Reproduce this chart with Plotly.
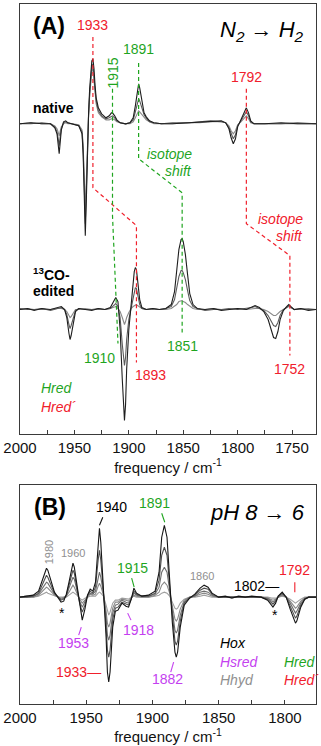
import plotly.graph_objects as go

# ===================== DATA =====================
# Panel A, "native" spectra (frequency in cm-1, difference absorbance in arb. units)
native_freq = [2000, 1990, 1980, 1972, 1968, 1966, 1965, 1964, 1963, 1962, 1960, 1958, 1956, 1952,
               1946, 1943, 1942, 1941, 1940, 1939, 1938, 1937, 1936, 1935, 1934, 1933, 1932, 1931,
               1930, 1928, 1925, 1921, 1918, 1916, 1915, 1913, 1911, 1908, 1903, 1899, 1896, 1894,
               1892, 1891, 1890, 1888, 1886, 1884, 1881, 1877, 1870, 1860, 1845, 1835, 1825, 1815,
               1811, 1808, 1806, 1804, 1802, 1800, 1797, 1794, 1792, 1790, 1788, 1785, 1775, 1760,
               1745, 1728]
native_t1 = [0, 1, 0, 0, -4, -10, -20, -30, -18, -6, 2, 3, 1, 0,
             -2, -10, -30, -70, -112, -75, -25, 10, 35, 55, 63, 65, 55, 38,
             26, 16, 10, 6, 8, 11, 11, 8, 4, 1, 0, 1, 6, 18,
             35, 40, 36, 22, 11, 7, 3, 1, 0, 0, 1, 2, 3, 3,
             1, -5, -14, -20, -15, -3, 4, 12, 16, 11, 3, 0, 0, 1,
             0, 0]
native_t2 = [0, 0, 1, 0, -3, -8, -14, -22, -12, -5, 1, 2, 1, 0,
             -2, -8, -25, -60, -100, -65, -20, 8, 30, 50, 58, 60, 50, 34,
             23, 13, 8, 5, 6, 8, 8, 6, 3, 1, 0, 1, 4, 12,
             22, 25, 23, 15, 9, 6, 2, 1, 0, 1, 1, 2, 3, 2,
             1, -4, -10, -15, -11, -2, 3, 9, 12, 8, 2, 0, 0, 0,
             1, 0]
native_t3 = [0, 1, 0, 0, -2, -5, -8, -12, -7, -3, 0, 1, 0, 0,
             -1, -6, -20, -50, -85, -55, -15, 8, 28, 46, 53, 55, 45, 30,
             20, 11, 7, 4, 4, 5, 5, 4, 2, 1, 0, 0, 2, 6,
             11, 13, 12, 9, 6, 4, 2, 0, 0, 0, 1, 1, 2, 2,
             1, -2, -7, -10, -7, -1, 2, 6, 8, 5, 1, 0, 0, 0,
             0, 0]

# Panel A, "13CO-edited" spectra
co13_freq = [2000, 1993, 1987, 1980, 1972, 1966, 1962, 1959, 1957, 1955, 1954, 1953, 1951, 1949,
             1946, 1940, 1934, 1928, 1922, 1917, 1914, 1912, 1910, 1908, 1906, 1905, 1904, 1903,
             1902, 1900, 1898, 1896, 1895, 1894, 1893, 1892, 1890, 1888, 1884, 1878, 1872, 1866,
             1861, 1858, 1856, 1854, 1852, 1851, 1850, 1848, 1846, 1844, 1841, 1837, 1830, 1822,
             1815, 1808, 1800, 1792, 1787, 1784, 1780, 1776, 1772, 1769, 1767, 1765, 1763, 1761,
             1758, 1755, 1753, 1751, 1748, 1742, 1735, 1728]
co13_t1 = [0, 1, -1, 1, 0, 2, 3, 0, -8, -24, -30, -26, -12, -2,
           1, 0, -1, 1, 0, 2, 8, 12, 8, -20, -70, -100, -111, -95,
           -60, -20, 5, 25, 38, 42, 40, 30, 10, 2, 0, 1, 0, 1,
           5, 18, 40, 60, 70, 71, 68, 55, 35, 16, 5, 1, 0, 1,
           -1, 0, 1, 0, 3, 4, 2, -2, -10, -22, -28, -29, -22, -10,
           -1, 3, 5, 3, 0, 1, -1, 0]
co13_t2 = [1, 0, 0, 1, -1, 1, 2, 0, -5, -15, -19, -16, -8, -1,
           1, 0, 0, 1, 0, 1, 4, 6, 3, -8, -35, -50, -56, -48,
           -30, -10, 2, 12, 20, 22, 21, 15, 5, 1, 0, 1, 0, 1,
           3, 10, 22, 33, 39, 39, 37, 30, 19, 9, 3, 1, -1, 0,
           0, 1, 0, 1, 2, 3, 1, -1, -6, -13, -16, -17, -13, -6,
           0, 2, 4, 2, 0, 1, 0, 0]
co13_t3 = [0, 1, 0, 0, 0, 1, 1, 0, -2, -6, -8, -7, -3, 0,
           0, 1, 0, 0, 0, 1, 2, 3, 1, -2, -8, -13, -15, -12,
           -8, -3, 1, 3, 4, 5, 5, 4, 2, 1, 0, 0, 0, 0,
           1, 3, 5, 8, 9, 9, 8, 7, 5, 3, 1, 0, 0, 1,
           0, 0, 1, 0, 1, 1, 1, 0, -2, -4, -6, -6, -4, -2,
           0, 2, 3, 2, 0, 0, 1, 0]

# Panel B, pH 8 -> 6 spectra
b_freq = [2000, 1995, 1990, 1986, 1983, 1981, 1980, 1979, 1977, 1974, 1971, 1969, 1967, 1965,
          1963, 1961, 1960, 1959, 1957, 1955, 1953, 1951, 1949, 1947, 1945, 1943, 1941, 1940,
          1939, 1937, 1935, 1934, 1933, 1932, 1930, 1928, 1926, 1923, 1920, 1918, 1916, 1914,
          1912, 1908, 1903, 1898, 1895, 1893, 1891, 1889, 1887, 1885, 1883, 1882, 1881, 1879,
          1876, 1872, 1868, 1864, 1861, 1858, 1855, 1850, 1845, 1840, 1835, 1830, 1825, 1818,
          1813, 1810, 1809, 1807, 1805, 1802, 1799, 1796, 1793, 1792, 1791, 1788, 1785, 1782,
          1776]
b_t1 = [0, 1, 2, 6, 18, 27, 29, 27, 18, 5, -1, -5, -4, 3,
        15, 30, 34, 30, 12, -10, -23, -12, 2, 8, 6, 15, 55, 69,
        55, 10, -40, -75, -85, -75, -30, -14, -13, -6, -9, -10, -2, 9,
        4, 1, 2, 6, 25, 60, 72, 60, 15, -25, -55, -60, -55, -30,
        -8, -1, 3, 9, 12, 10, 4, 0, 1, -1, 1, 0, 1, 0,
        -3, -9, -10, -6, 1, 5, 0, -12, -24, -26, -24, -10, -2, 0,
        0]
b_t2 = [0, 0, 1, 4, 13, 20, 22, 20, 13, 4, 0, -3, -2, 2,
        12, 24, 27, 24, 10, -6, -15, -8, 2, 6, 4, 10, 37, 47,
        37, 7, -28, -53, -60, -53, -22, -11, -10, -5, -7, -8, -2, 6,
        3, 1, 1, 4, 17, 42, 50, 42, 11, -20, -44, -48, -44, -24,
        -6, -1, 2, 7, 9, 8, 3, 0, 0, 0, 0, 0, 0, 0,
        -2, -6, -7, -4, 1, 4, 0, -9, -19, -21, -19, -8, -2, 0,
        0]
b_t3 = [0, 1, 1, 3, 9, 14, 15, 14, 9, 3, 0, -2, -1, 1,
        9, 18, 20, 18, 7, -4, -10, -5, 1, 4, 3, 6, 20, 25,
        20, 4, -20, -38, -43, -38, -16, -8, -7, -3, -5, -6, -1, 4,
        2, 1, 1, 3, 10, 25, 30, 25, 7, -15, -33, -36, -33, -18,
        -5, 0, 1, 5, 6, 5, 2, 0, 0, 0, 0, 0, 0, 0,
        -1, -4, -5, -3, 0, 3, 0, -6, -14, -16, -14, -6, -1, 0,
        0]
b_t4 = [0, 0, 0, 2, 6, 9, 10, 9, 6, 2, 0, -1, 0, 1,
        5, 10, 12, 10, 4, -2, -6, -3, 1, 3, 2, 3, 11, 14,
        11, 2, -14, -26, -30, -26, -11, -5, -5, -2, -3, -4, -1, 2,
        1, 0, 0, 2, 5, 12, 15, 12, 4, -10, -22, -24, -22, -12,
        -3, 0, 1, 3, 4, 3, 1, 0, 0, 0, 0, 0, 0, 0,
        -1, -2, -3, -2, 0, 2, 0, -4, -10, -11, -10, -4, -1, 0,
        0]
b_t5 = [0, 0, 0, 1, 3, 4, 5, 4, 3, 1, 0, 0, 0, 0,
        2, 4, 5, 4, 2, -1, -3, -1, 0, 1, 1, 1, 4, 5,
        4, 1, -8, -15, -18, -15, -6, -3, -3, -1, -2, -2, 0, 1,
        0, 0, 0, 1, 2, 4, 5, 4, 1, -5, -11, -12, -11, -6,
        -2, 0, 0, 1, 2, 1, 0, 0, 0, 0, 0, 0, 0, 0,
        0, -1, -1, -1, 0, 1, 0, -2, -5, -6, -5, -2, 0, 0,
        0]

tick_vals_A = [2000, 1950, 1900, 1850, 1800, 1750]
tick_vals_B = [2000, 1950, 1900, 1850, 1800]

# ===================== STYLE / LAYOUT CONSTANTS =====================
FONT = "Arial, Liberation Sans, sans-serif"
RED = "#f0202c"
GREEN = "#1fa51f"
MAGENTA = "#c43ff0"
GRAY = "#909090"
NATIVE_OFFSET = 311
CO13_OFFSET = 125
B_OFFSET = 107

fig = go.Figure()

def spectrum(freq, vals, offset, color, axis, width=1.1):
    fig.add_trace(go.Scatter(
        x=freq, y=[v + offset for v in vals], mode="lines",
        line=dict(color=color, width=width), xaxis="x" if axis == 1 else "x2",
        yaxis="y" if axis == 1 else "y2", hoverinfo="skip", showlegend=False))

for vals, col in [(native_t3, "#8a8a8a"), (native_t2, "#5a5a5a"), (native_t1, "#1e1e1e")]:
    spectrum(native_freq, vals, NATIVE_OFFSET, col, 1)
for vals, col in [(co13_t3, "#8a8a8a"), (co13_t2, "#5a5a5a"), (co13_t1, "#1e1e1e")]:
    spectrum(co13_freq, vals, CO13_OFFSET, col, 1)
for vals, col in [(b_t5, "#a0a0a0"), (b_t4, "#888888"), (b_t3, "#6e6e6e"),
                  (b_t2, "#505050"), (b_t1, "#151515")]:
    spectrum(b_freq, vals, B_OFFSET, col, 2)

# guide lines (dashed) in panel A
guides_A = [
    ([1933, 1933, 1893, 1893], [398, 247, 209, 72], RED),
    ([1915, 1915, 1910, 1910], [346, 219, 92, 91], GREEN),
    ([1891, 1891, 1851, 1851], [372, 276, 242, 102], GREEN),
    ([1792, 1792, 1752, 1752], [346, 211, 179, 79], RED),
]
for gx, gy, col in guides_A:
    fig.add_trace(go.Scatter(x=gx, y=gy, mode="lines", line=dict(color=col, width=1.2, dash="4px,3px"),
                             xaxis="x", yaxis="y", hoverinfo="skip", showlegend=False))

# short leader ticks in panel B
leaders_B = [
    ([1937.5, 1940], [187, 179], "#111111"),
    ([1893, 1890.7], [191, 182], GREEN),
    ([1915.7, 1913.8], [126, 117], GREEN),
    ([1792.5, 1792.5], [122, 112], RED),
    ([1955.7, 1953.7], [69, 77], MAGENTA),
    ([1916.2, 1918.7], [84, 91], MAGENTA),
    ([1886.2, 1884], [32, 42], MAGENTA),
]
for gx, gy, col in leaders_B:
    fig.add_trace(go.Scatter(x=gx, y=gy, mode="lines", line=dict(color=col, width=1.1),
                             xaxis="x2", yaxis="y2", hoverinfo="skip", showlegend=False))

annotations = []
def ann(x, y, text, color="#000000", size=14, axis=1, xanchor="center", angle=0):
    annotations.append(dict(
        x=x, y=y, text=text, showarrow=False, xref="x" if axis == 1 else "x2",
        yref="y" if axis == 1 else "y2", xanchor=xanchor, yanchor="middle",
        textangle=angle, font=dict(family=FONT, size=size, color=color)))

# panel A texts
ann(1972.9, 409, "<b>(A)</b>", size=23)
ann(1737, 404, "<i>N<sub>2</sub> \u2192 H<sub>2</sub></i>", size=22, xanchor="right")
ann(1933, 410, "1933", RED)
ann(1914.8, 362, "1915", GREEN, angle=-90)
ann(1891.5, 386, "1891", GREEN)
ann(1792, 358, "1792", RED)
ann(1969.2, 327, "<b>native</b>", size=14)
ann(1839.7, 281, "<i>isotope</i>", GREEN, xanchor="right")
ann(1839.7, 264, "<i>shift</i>", GREEN, xanchor="right")
ann(1738.3, 216, "<i>isotope</i>", RED, xanchor="right")
ann(1738.3, 199, "<i>shift</i>", RED, xanchor="right")
ann(1990.2, 161, "<b><sup>13</sup>CO-</b>", size=14, xanchor="left")
ann(1990.2, 144, "<b>edited</b>", size=14, xanchor="left")
ann(1927.0, 76, "1910", GREEN)
ann(1851, 88, "1851", GREEN)
ann(1880, 59, "1893", RED)
ann(1752.5, 65, "1752", RED)
ann(1983, 46, "<i>Hred</i>", GREEN, xanchor="left")
ann(1983, 27, "<i>Hred\u00b4</i>", RED, xanchor="left")

# panel B texts
ann(1977.7, 197, "<b>(B)</b>", size=23, axis=2)
ann(1783.5, 192, "<i>pH 8 \u2192 6</i>", size=22, axis=2, xanchor="right")
ann(1931.2, 197, "1940", axis=2)
ann(1898.2, 201, "1891", GREEN, axis=2)
ann(1978, 152, "1980", GRAY, size=11, axis=2, angle=-90)
ann(1960, 151, "1960", GRAY, size=11, axis=2)
ann(1915, 136, "1915", GREEN, axis=2)
ann(1862.5, 128, "1860", GRAY, size=11, axis=2)
ann(1803, 118, "1802\u2014", axis=2, xanchor="right")
ann(1792.5, 134, "1792", RED, axis=2)
ann(1968, 91, "*", axis=2)
ann(1807.5, 89, "*", axis=2)
ann(1959.7, 61, "1953", MAGENTA, axis=2)
ann(1910.2, 74, "1918", MAGENTA, axis=2)
ann(1937.2, 32, "1933\u2014", RED, axis=2, xanchor="right")
ann(1888.5, 25, "1882", MAGENTA, axis=2)
ann(1850.8, 61, "<i>Hox</i>", "#000000", axis=2, xanchor="left")
ann(1850.8, 42, "<i>Hsred</i>", MAGENTA, axis=2, xanchor="left")
ann(1802, 42, "<i>Hred</i>", GREEN, axis=2, xanchor="left")
ann(1850.8, 24, "<i>Hhyd</i>", GRAY, axis=2, xanchor="left")
ann(1802, 24, "<i>Hred\u00b4</i>", RED, axis=2, xanchor="left")

axis_common = dict(showline=True, linecolor="#3a3a3a", linewidth=1, mirror=True,
                   showgrid=False, zeroline=False)
xcommon = dict(axis_common, ticks="inside", ticklen=4, tickwidth=1, tickcolor="#3a3a3a",
               tickfont=dict(family=FONT, size=15, color="#111111"),
               title=dict(text="frequency / cm<sup>-1</sup>", standoff=3,
                          font=dict(family=FONT, size=15, color="#111111")))

fig.update_layout(
    width=321, height=746,
    margin=dict(l=18, r=5, t=3, b=42),
    paper_bgcolor="white", plot_bgcolor="white",
    showlegend=False,
    xaxis=dict(xcommon, range=[2000, 1728], tickvals=tick_vals_A, anchor="y",
               minor=dict(tickvals=[1975, 1925, 1875, 1825, 1775], ticks="inside",
                          ticklen=4, tickcolor="#3a3a3a")),
    yaxis=dict(axis_common, domain=[0.3852, 1], range=[0, 431], showticklabels=False,
               ticks="", anchor="x"),
    xaxis2=dict(xcommon, range=[2000, 1776.5], tickvals=tick_vals_B, anchor="y2",
                minor=dict(tickvals=[1975, 1925, 1875, 1825, 1775], ticks="inside",
                           ticklen=4, tickcolor="#3a3a3a")),
    yaxis2=dict(axis_common, domain=[0, 0.3124], range=[0, 219], showticklabels=False,
                ticks="", anchor="x2"),
    annotations=annotations,
)

fig.write_html("out.html",
               config={"displayModeBar": False, "staticPlot": True},
               post_script="document.body.style.margin='0px';document.body.style.padding='0px';"
                           "document.body.style.overflow='hidden';")
